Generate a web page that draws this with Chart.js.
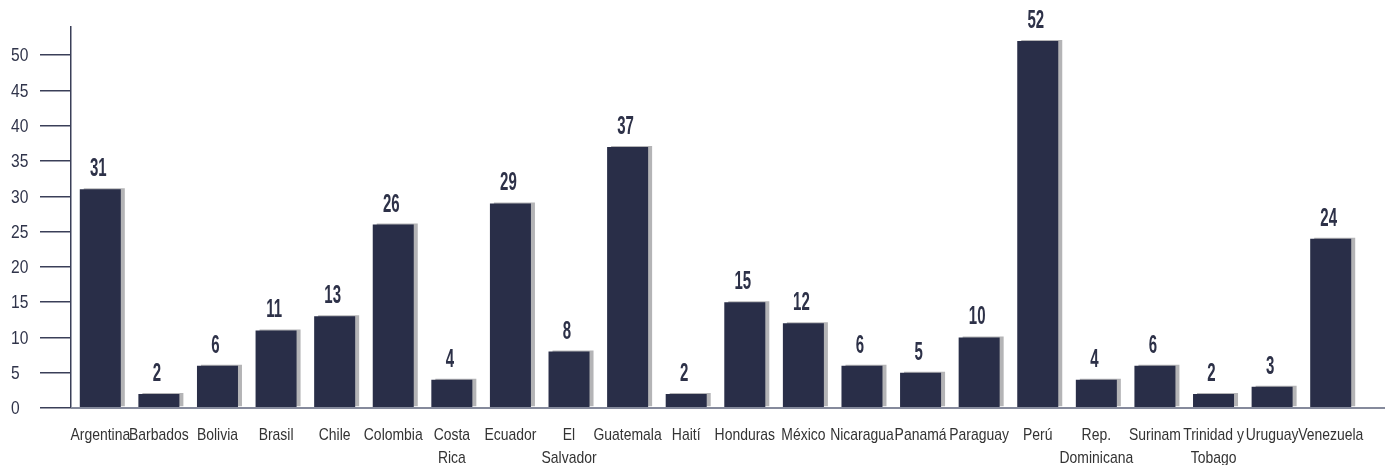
<!DOCTYPE html>
<html>
<head>
<meta charset="utf-8">
<script src="https://cdn.jsdelivr.net/npm/chart.js@4"></script>
<style>
  html, body { margin: 0; padding: 0; background: #fff; }
  #wrap { width: 1385px; height: 465px; }
</style>
</head>
<body>
<div id="wrap"><canvas id="countriesChart"></canvas></div>
<script>
// ===== Data =====
const countries = ['Argentina', 'Barbados', 'Bolivia', 'Brasil', 'Chile', 'Colombia', ['Costa', 'Rica'], 'Ecuador',
  ['El', 'Salvador'], 'Guatemala', 'Haití', 'Honduras', 'México', 'Nicaragua', 'Panamá', 'Paraguay', 'Perú',
  ['Rep.', 'Dominicana'], 'Surinam', ['Trinidad y', 'Tobago'], 'Uruguay', 'Venezuela'];
const counts = [31, 2, 6, 11, 13, 26, 4, 29, 8, 37, 2, 15, 12, 6, 5, 10, 52, 4, 6, 2, 3, 24];
const yTicks = [0, 5, 10, 15, 20, 25, 30, 35, 40, 45, 50];

const barColor = '#292e48';
const shadowColor = '#b4b4b6';
const narrowFont = '"Liberation Sans", Arial, sans-serif';

// helper: draw horizontally squeezed text (no narrow font installed)
function squeezedText(ctx, text, x, y, squeeze) {
  ctx.save();
  ctx.translate(x, y);
  ctx.scale(squeeze, 1);
  ctx.fillText(text, 0, 0);
  ctx.restore();
}

// gray drop shadow to the right of each bar
const barShadow = {
  id: 'barShadow',
  beforeDatasetsDraw(chart) {
    const ctx = chart.ctx;
    ctx.save();
    ctx.shadowColor = shadowColor;
    ctx.shadowOffsetX = 4;
    ctx.shadowOffsetY = -1;
    ctx.shadowBlur = 0;
  },
  afterDatasetsDraw(chart) {
    chart.ctx.restore();
  }
};

// value labels + narrow axis labels
const textLayer = {
  id: 'textLayer',
  afterDraw(chart) {
    const ctx = chart.ctx;
    const xScale = chart.scales.x;
    const yScale = chart.scales.y;
    const area = chart.chartArea;

    // x axis line runs to the right edge
    ctx.save();
    ctx.strokeStyle = '#858a9c';
    ctx.lineWidth = 2;
    ctx.beginPath();
    ctx.moveTo(area.left, area.bottom);
    ctx.lineTo(chart.width, area.bottom);
    ctx.stroke();
    ctx.restore();

    // values above bars
    const meta = chart.getDatasetMeta(0);
    ctx.save();
    ctx.fillStyle = '#2d3148';
    ctx.font = 'bold 25px ' + narrowFont;
    ctx.textAlign = 'center';
    ctx.textBaseline = 'alphabetic';
    meta.data.forEach((bar, i) => {
      squeezedText(ctx, String(counts[i]), bar.x - 2, bar.y - 13, 0.6);
    });
    ctx.restore();

    // category labels
    ctx.save();
    ctx.fillStyle = '#333333';
    ctx.font = '17px ' + narrowFont;
    ctx.textAlign = 'center';
    ctx.textBaseline = 'alphabetic';
    countries.forEach((label, i) => {
      const lines = Array.isArray(label) ? label : [label];
      const x = xScale.getPixelForTick(i);
      lines.forEach((line, j) => {
        squeezedText(ctx, line, x, area.bottom + 32 + j * 23, 0.82);
      });
    });
    ctx.restore();

    // y tick labels, left aligned
    ctx.save();
    ctx.fillStyle = '#30344a';
    ctx.font = '19px ' + narrowFont;
    ctx.textAlign = 'left';
    ctx.textBaseline = 'middle';
    yTicks.forEach(v => {
      squeezedText(ctx, String(v), 11, yScale.getPixelForValue(v) + 1, 0.82);
    });
    ctx.restore();
  }
};

const ctx = document.getElementById('countriesChart').getContext('2d');
new Chart(ctx, {
  type: 'bar',
  data: {
    labels: countries,
    datasets: [{
      data: counts,
      backgroundColor: barColor,
      borderWidth: 0,
      barPercentage: 0.7,
      categoryPercentage: 1
    }]
  },
  options: {
    responsive: true,
    maintainAspectRatio: false,
    animation: false,
    layout: { padding: { left: 40, top: 27, right: 25, bottom: 49 } },
    plugins: {
      legend: { display: false },
      tooltip: { enabled: false }
    },
    scales: {
      x: {
        grid: { display: false },
        border: { display: false },
        ticks: { display: false }
      },
      y: {
        min: 0,
        max: 54,
        afterBuildTicks: scale => {
          scale.ticks = yTicks.map(v => ({ value: v }));
        },
        grid: {
          drawOnChartArea: false,
          drawTicks: true,
          tickLength: 31,
          color: '#3a3f58',
          lineWidth: 1.5
        },
        border: { display: true, color: '#3a3f58', width: 1.5 },
        ticks: { display: false }
      }
    }
  },
  plugins: [barShadow, textLayer]
});
</script>
</body>
</html>
